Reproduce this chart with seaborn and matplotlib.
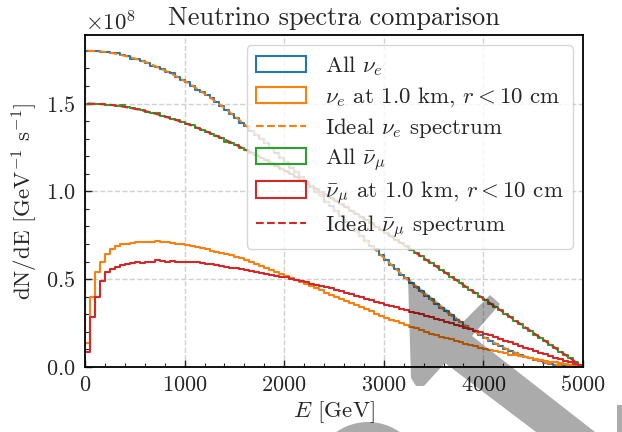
import numpy as np
import pandas as pd
import matplotlib
matplotlib.use('Agg')
import matplotlib.pyplot as plt
import seaborn as sns
from matplotlib.patches import Patch, Polygon, Ellipse, Rectangle
from matplotlib.lines import Line2D
from matplotlib.ticker import AutoMinorLocator

# 100 energy bins of 50 GeV, values in units of 1e8 GeV^-1 s^-1
bin_edges = np.arange(0, 5001, 50)
bin_centers = bin_edges[:-1] + 25
scale = 1e8

ideal_nue = [
    1.800, 1.799, 1.797, 1.795, 1.791, 1.787, 1.781, 1.775, 1.768, 1.760,
    1.752, 1.742, 1.732, 1.720, 1.708, 1.695, 1.682, 1.667, 1.652, 1.636,
    1.620, 1.602, 1.584, 1.566, 1.546, 1.526, 1.506, 1.485, 1.463, 1.440,
    1.418, 1.394, 1.370, 1.346, 1.321, 1.296, 1.270, 1.244, 1.218, 1.192,
    1.165, 1.138, 1.110, 1.083, 1.055, 1.027, 0.999, 0.971, 0.942, 0.914,
    0.886, 0.858, 0.829, 0.801, 0.773, 0.745, 0.718, 0.690, 0.663, 0.635,
    0.609, 0.582, 0.556, 0.530, 0.504, 0.479, 0.454, 0.430, 0.406, 0.383,
    0.360, 0.337, 0.316, 0.294, 0.274, 0.254, 0.234, 0.216, 0.198, 0.180,
    0.164, 0.148, 0.133, 0.118, 0.105, 0.092, 0.080, 0.069, 0.058, 0.049,
    0.040, 0.032, 0.025, 0.019, 0.013, 0.009, 0.005, 0.003, 0.001, 0.000,
]
all_nue = [
    1.800, 1.799, 1.797, 1.795, 1.791, 1.787, 1.785, 1.775, 1.768, 1.755,
    1.752, 1.742, 1.732, 1.712, 1.708, 1.695, 1.682, 1.672, 1.652, 1.636,
    1.620, 1.602, 1.577, 1.566, 1.546, 1.533, 1.506, 1.485, 1.463, 1.440,
    1.418, 1.388, 1.370, 1.346, 1.321, 1.296, 1.277, 1.244, 1.218, 1.192,
    1.165, 1.131, 1.110, 1.083, 1.055, 1.027, 0.999, 0.978, 0.942, 0.914,
    0.886, 0.858, 0.823, 0.801, 0.773, 0.745, 0.718, 0.690, 0.669, 0.635,
    0.609, 0.582, 0.556, 0.524, 0.504, 0.479, 0.454, 0.430, 0.406, 0.389,
    0.360, 0.337, 0.316, 0.294, 0.268, 0.254, 0.234, 0.216, 0.204, 0.180,
    0.164, 0.148, 0.133, 0.118, 0.100, 0.092, 0.080, 0.069, 0.058, 0.053,
    0.040, 0.032, 0.025, 0.019, 0.013, 0.009, 0.005, 0.003, 0.001, 0.000,
]
nue_1km = [
    0.136, 0.400, 0.540, 0.600, 0.645, 0.672, 0.688, 0.698, 0.703, 0.706,
    0.709, 0.711, 0.712, 0.714, 0.715, 0.713, 0.711, 0.707, 0.703, 0.699,
    0.694, 0.688, 0.682, 0.676, 0.669, 0.663, 0.656, 0.650, 0.643, 0.636,
    0.629, 0.619, 0.608, 0.597, 0.586, 0.575, 0.564, 0.553, 0.542, 0.531,
    0.520, 0.508, 0.496, 0.484, 0.472, 0.460, 0.448, 0.436, 0.424, 0.412,
    0.400, 0.388, 0.376, 0.364, 0.352, 0.340, 0.328, 0.316, 0.304, 0.292,
    0.280, 0.270, 0.260, 0.250, 0.240, 0.230, 0.220, 0.210, 0.200, 0.190,
    0.181, 0.173, 0.165, 0.157, 0.149, 0.141, 0.133, 0.125, 0.117, 0.109,
    0.101, 0.095, 0.089, 0.083, 0.077, 0.071, 0.066, 0.061, 0.056, 0.051,
    0.046, 0.041, 0.036, 0.031, 0.026, 0.021, 0.017, 0.013, 0.009, 0.005,
]
ideal_numubar = [
    1.500, 1.499, 1.498, 1.496, 1.494, 1.491, 1.487, 1.483, 1.478, 1.473,
    1.467, 1.461, 1.454, 1.447, 1.439, 1.431, 1.422, 1.413, 1.404, 1.394,
    1.384, 1.373, 1.362, 1.351, 1.339, 1.327, 1.315, 1.302, 1.289, 1.276,
    1.262, 1.248, 1.234, 1.220, 1.205, 1.190, 1.175, 1.160, 1.144, 1.129,
    1.113, 1.097, 1.080, 1.064, 1.047, 1.030, 1.013, 0.996, 0.979, 0.961,
    0.944, 0.926, 0.908, 0.890, 0.872, 0.854, 0.836, 0.818, 0.799, 0.781,
    0.762, 0.744, 0.725, 0.706, 0.687, 0.668, 0.649, 0.630, 0.611, 0.592,
    0.573, 0.554, 0.535, 0.515, 0.496, 0.477, 0.457, 0.438, 0.419, 0.399,
    0.380, 0.360, 0.341, 0.322, 0.302, 0.283, 0.263, 0.244, 0.224, 0.205,
    0.185, 0.166, 0.146, 0.127, 0.107, 0.088, 0.068, 0.049, 0.029, 0.010,
]
all_numubar = [
    1.500, 1.499, 1.496, 1.496, 1.494, 1.491, 1.487, 1.492, 1.478, 1.473,
    1.467, 1.461, 1.454, 1.447, 1.445, 1.431, 1.422, 1.413, 1.404, 1.394,
    1.384, 1.378, 1.362, 1.351, 1.339, 1.327, 1.315, 1.302, 1.283, 1.276,
    1.262, 1.248, 1.234, 1.220, 1.205, 1.190, 1.181, 1.160, 1.144, 1.129,
    1.113, 1.097, 1.080, 1.064, 1.047, 1.030, 1.013, 0.996, 0.979, 0.961,
    0.944, 0.926, 0.908, 0.890, 0.872, 0.854, 0.836, 0.818, 0.799, 0.781,
    0.762, 0.744, 0.725, 0.706, 0.687, 0.668, 0.649, 0.630, 0.611, 0.592,
    0.573, 0.554, 0.535, 0.515, 0.496, 0.477, 0.457, 0.438, 0.419, 0.399,
    0.380, 0.360, 0.341, 0.322, 0.302, 0.283, 0.263, 0.244, 0.224, 0.205,
    0.185, 0.166, 0.146, 0.127, 0.107, 0.088, 0.068, 0.049, 0.029, 0.010,
]
numubar_1km = [
    0.087, 0.286, 0.400, 0.490, 0.540, 0.560, 0.570, 0.580, 0.585, 0.590,
    0.595, 0.592, 0.596, 0.600, 0.610, 0.602, 0.598, 0.601, 0.597, 0.599,
    0.600, 0.598, 0.596, 0.592, 0.589, 0.584, 0.580, 0.576, 0.571, 0.566,
    0.561, 0.556, 0.551, 0.546, 0.540, 0.535, 0.530, 0.525, 0.520, 0.515,
    0.510, 0.503, 0.496, 0.489, 0.482, 0.475, 0.468, 0.461, 0.454, 0.447,
    0.440, 0.432, 0.423, 0.415, 0.406, 0.398, 0.389, 0.381, 0.372, 0.364,
    0.355, 0.347, 0.339, 0.331, 0.323, 0.315, 0.307, 0.299, 0.291, 0.283,
    0.275, 0.267, 0.258, 0.250, 0.241, 0.233, 0.224, 0.216, 0.207, 0.199,
    0.190, 0.180, 0.170, 0.160, 0.150, 0.140, 0.130, 0.120, 0.110, 0.100,
    0.090, 0.081, 0.072, 0.063, 0.054, 0.045, 0.036, 0.027, 0.018, 0.009,
]

labels = [
    r'All $\nu_e$',
    r'$\nu_e$ at 1.0 km, $r < 10$ cm',
    r'Ideal $\nu_e$ spectrum',
    r'All $\bar{\nu}_\mu$',
    r'$\bar{\nu}_\mu$ at 1.0 km, $r < 10$ cm',
    r'Ideal $\bar{\nu}_\mu$ spectrum',
]
BLUE, ORANGE, GREEN, RED = '#1f77b4', '#ff7f0e', '#2ca02c', '#d62728'

sns.set_theme(style='ticks')
plt.rcParams.update({
    'font.family': 'serif',
    'font.serif': ['cmr10', 'DejaVu Serif'],
    'mathtext.fontset': 'cm',
    'axes.formatter.use_mathtext': True,
    'font.size': 16,
    'axes.linewidth': 1.3,
    'axes.edgecolor': 'black',
})

fig = plt.figure(figsize=(6.22, 4.32), dpi=100)
ax = fig.add_axes([85 / 622, 1 - 367 / 432, 498 / 622, 332 / 432])


def draw_hist(vals, color):
    df = pd.DataFrame({'E': bin_centers, 'w': np.array(vals) * scale})
    sns.histplot(data=df, x='E', weights='w', bins=list(bin_edges),
                 element='step', fill=False, color=color, linewidth=1.5, ax=ax)


def draw_ideal(vals, color):
    df = pd.DataFrame({'E': bin_centers, 'y': np.array(vals) * scale})
    sns.lineplot(data=df, x='E', y='y', color=color, linestyle='--',
                 linewidth=1.5, ax=ax)


draw_hist(all_nue, BLUE)
draw_hist(nue_1km, ORANGE)
draw_ideal(ideal_nue, ORANGE)
draw_hist(all_numubar, GREEN)
draw_hist(numubar_1km, RED)
draw_ideal(ideal_numubar, RED)

ax.set_xlim(0, 5000)
ax.set_ylim(0, 1.89e8)
ax.xaxis.set_minor_locator(AutoMinorLocator(5))
ax.yaxis.set_minor_locator(AutoMinorLocator(5))
ax.tick_params(which='both', direction='in', labelsize=16)
ax.tick_params(which='major', length=5, width=1, pad=6)
ax.tick_params(which='minor', length=3, width=0.8)
ax.tick_params(axis='y', pad=7)
ax.grid(True, which='major', linestyle='--', color='0.82', linewidth=1)
ax.set_axisbelow(True)
ax.yaxis.get_offset_text().set_fontsize(16.5)

ax.set_xlabel(r'$E$ [GeV]', fontsize=16.5, labelpad=3)
ax.set_ylabel(r'dN/dE [GeV$^{-1}$ s$^{-1}$]', fontsize=16.5)
ax.set_title('Neutrino spectra comparison', fontsize=19, pad=7)

handles = [
    Patch(facecolor='none', edgecolor=BLUE, linewidth=1.5),
    Patch(facecolor='none', edgecolor=ORANGE, linewidth=1.5),
    Line2D([], [], color=ORANGE, linestyle='--', linewidth=1.5),
    Patch(facecolor='none', edgecolor=GREEN, linewidth=1.5),
    Patch(facecolor='none', edgecolor=RED, linewidth=1.5),
    Line2D([], [], color=RED, linestyle='--', linewidth=1.5),
]
ax.legend(handles, labels, loc='upper right', fontsize=16.5, frameon=True,
          framealpha=0.8, edgecolor='0.8', handlelength=2.2,
          labelspacing=0.3, borderpad=0.4, handletextpad=0.8,
          borderaxespad=0.45)

# grey overlay arrow and shapes (figure pixel coordinates)
W, H = 622, 432
arrow_px = [(408, 278), (463, 322), (490, 295), (500, 304), (472, 336),
            (595, 432), (536, 432), (445, 363), (424, 386), (416, 386),
            (411, 378)]
shade = dict(transform=fig.transFigure, facecolor='black', alpha=0.33,
             edgecolor='none', zorder=10)
fig.add_artist(Polygon([(x / W, 1 - y / H) for x, y in arrow_px], closed=True, **shade))
fig.add_artist(Ellipse((368 / W, 1 - 477 / H), 110 / W, 110 / H, **shade))
fig.add_artist(Rectangle((617 / W, 0), 5 / W, 27 / H, **shade))

fig.savefig('out.png', dpi=100, facecolor='white')
